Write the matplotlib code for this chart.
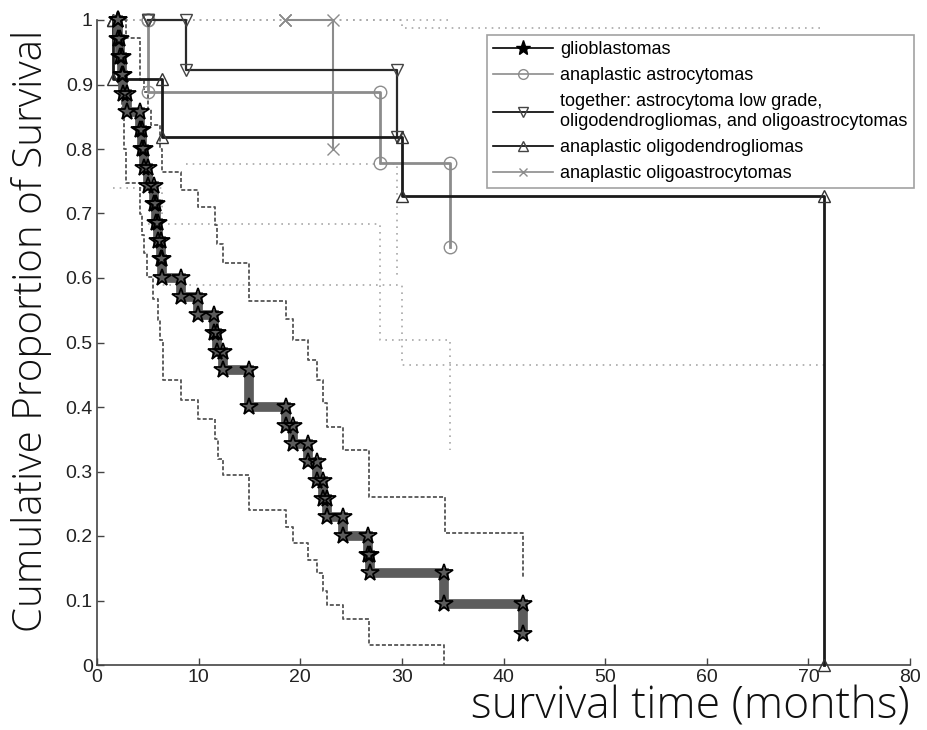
import numpy as np
import matplotlib.pyplot as plt
from matplotlib.lines import Line2D

# ---------------- data ----------------
# glioblastomas: event times (months) and survival after each drop
gbm_t = [2.1, 2.25, 2.45, 2.6, 3.0, 4.2, 4.4, 4.6, 5.0, 5.6, 5.85, 6.05, 6.3, 6.4,
         8.3, 9.9, 11.5, 11.8, 12.4, 15.0, 18.6, 19.3, 20.8, 21.6, 22.2, 22.6,
         24.2, 26.7, 26.9, 34.1, 41.9]
gbm_s = [0.971, 0.943, 0.914, 0.886, 0.857, 0.829, 0.800, 0.771, 0.743, 0.714,
         0.686, 0.657, 0.629, 0.600, 0.571, 0.543, 0.514, 0.486, 0.457, 0.400,
         0.371, 0.343, 0.314, 0.286, 0.257, 0.229, 0.200, 0.171, 0.143, 0.095,
         0.048]
gbm_up_t = [2.85, 4.2, 4.6, 5.0, 5.3, 6.2, 6.35, 8.3, 9.95, 11.6, 11.8, 12.4,
            15.0, 18.6, 19.3, 20.8, 21.6, 22.2, 22.6, 24.2, 26.8, 34.2, 41.9]
gbm_up_s = [0.972, 0.907, 0.888, 0.862, 0.837, 0.800, 0.765, 0.736, 0.710, 0.682,
            0.652, 0.624, 0.565, 0.537, 0.504, 0.473, 0.442, 0.406, 0.369, 0.333,
            0.261, 0.205, 0.137]
gbm_lo_t = [2.3, 2.5, 2.7, 2.9, 4.2, 4.4, 4.6, 4.9, 5.5, 6.0, 6.2, 6.5,
            8.3, 9.95, 11.6, 11.9, 12.4, 15.0, 18.6, 19.3, 20.8, 21.6, 22.2, 22.6,
            24.2, 26.8, 34.1]
gbm_lo_s = [0.89, 0.86, 0.80, 0.747, 0.70, 0.667, 0.638, 0.602, 0.568,
            0.535, 0.504, 0.442, 0.411, 0.382, 0.351, 0.320, 0.295, 0.241, 0.214,
            0.189, 0.163, 0.142, 0.114, 0.093, 0.071, 0.031, 0.0]

# anaplastic astrocytomas
ast_t = [5.05, 27.8, 34.7]
ast_s = [0.889, 0.778, 0.648]
ast_lo_t = [5.05, 27.8, 34.7]
ast_lo_s = [0.684, 0.504, 0.333]

# together: astrocytoma low grade, oligodendrogliomas, oligoastrocytomas
tog_t = [5.05, 8.8, 29.5]
tog_s = [1.0, 0.923, 0.819]
tog_lo_t = [8.8, 29.5]
tog_lo_s = [0.777, 0.60]

# anaplastic oligodendrogliomas
odg_t = [1.6, 6.35, 30.0, 71.5]
odg_s = [0.909, 0.818, 0.727, 0.0]
odg_lo_t = [1.6, 6.35, 30.0]
odg_lo_s = [0.739, 0.589, 0.465]
odg_up_t = [1.6, 30.0]
odg_up_s = [1.0, 0.988]

# anaplastic oligoastrocytomas
oac_t = [18.5, 23.2]
oac_s = [1.0, 0.8]

upper_one_span = [1.6, 34.7]   # upper limits capped at 1

labels = ["glioblastomas",
          "anaplastic astrocytomas",
          "together: astrocytoma low grade,\noligodendrogliomas, and oligoastrocytomas",
          "anaplastic oligodendrogliomas",
          "anaplastic oligoastrocytomas"]


def steps(times, vals, start=1.0, t_end=None):
    xs = [times[0]]
    ys = [start]
    prev = start
    for t, v in zip(times, vals):
        xs += [t, t]
        ys += [prev, v]
        prev = v
    if t_end is not None:
        xs.append(t_end)
        ys.append(prev)
    return xs, ys


fig = plt.figure(figsize=(9.27, 7.30), dpi=100)
ax = fig.add_axes([97 / 927, 1 - 665 / 730, 813 / 927, 645 / 730])

light = "#a8a8a8"
dot = (0, (1, 3))
dash = (0, (2.2, 1.2))

# confidence limits (other groups)
ax.plot(upper_one_span, [1.0, 1.0], color=light, lw=1.2, ls=dot, clip_on=False)
x, y = steps(ast_lo_t, ast_lo_s, start=ast_lo_s[0])
ax.plot(x, y, color=light, lw=1.2, ls=dot)
x, y = steps(tog_lo_t, tog_lo_s, start=tog_lo_s[0])
ax.plot(x, y, color=light, lw=1.2, ls=dot)
x, y = steps(odg_lo_t, odg_lo_s, start=odg_lo_s[0], t_end=odg_t[-1])
ax.plot(x, y, color=light, lw=1.2, ls=dot)
x, y = steps(odg_up_t, odg_up_s, start=odg_up_s[0], t_end=odg_t[-1])
ax.plot(x, y, color=light, lw=1.2, ls=dot, clip_on=False)

# confidence limits (glioblastomas)
x, y = steps(gbm_up_t, gbm_up_s, start=1.0)
x = [gbm_t[0]] + x
y = [1.0] + y
ax.plot(x, y, color="#555555", lw=1.3, ls=dash, clip_on=False)
x, y = steps(gbm_lo_t, gbm_lo_s, start=0.92)
ax.plot(x, y, color="#555555", lw=1.3, ls=dash)

# survival curves
x, y = steps(ast_t, ast_s)
ax.plot(x, y, color="#8c8c8c", lw=2, marker="o", ms=9, mfc="none",
        mec="#8c8c8c", clip_on=False)
x, y = steps(oac_t, oac_s)
ax.plot(x, y, color="#8c8c8c", lw=1.5, marker="x", ms=8, mec="#8c8c8c",
        clip_on=False)
x, y = steps(tog_t, tog_s)
ax.plot(x, y, color="#2a2a2a", lw=1.6, marker="v", ms=9, mfc="none",
        mec="#444444", clip_on=False)
x, y = steps(odg_t, odg_s)
ax.plot(x, y, color="#1a1a1a", lw=2, marker="^", ms=9, mfc="none",
        mec="#333333", clip_on=False, zorder=3)
x, y = steps(gbm_t, gbm_s, start=1.0)
ax.plot(x, y, color="#5c5c5c", lw=7, solid_joinstyle="miter", marker="*",
        ms=13, mfc="none", mec="black", mew=1.3, clip_on=False, zorder=4)

ax.set_xlim(0, 80)
ax.set_ylim(0, 1)
ax.set_xticks(np.arange(0, 81, 10))
ax.set_yticks(np.arange(0, 1.01, 0.1))
ax.set_yticklabels(["0", "0.1", "0.2", "0.3", "0.4", "0.5", "0.6", "0.7",
                    "0.8", "0.9", "1"])
tick_font = ["Liberation Sans Narrow", "Liberation Sans", "DejaVu Sans"]
for lab in ax.get_xticklabels() + ax.get_yticklabels():
    lab.set_family(tick_font)
    lab.set_fontsize(14)
ax.tick_params(direction="in", length=5, width=1, color="#444444",
               labelcolor="#222222", pad=3)
ax.spines["top"].set_visible(False)
ax.spines["right"].set_visible(False)
for s in ("left", "bottom"):
    ax.spines[s].set_color("#444444")
    ax.spines[s].set_linewidth(1.2)

label_font = ["Open Sans", "DejaVu Sans"]
fig.text(910 / 927, 1 - 707 / 730, "survival time (months)", ha="right",
         va="center", fontsize=32, family=label_font, fontweight="light",
         color="#111111")
fig.text(32 / 927, 1 - 331 / 730, "Cumulative Proportion of Survival",
         rotation=90, ha="center", va="center", fontsize=29, family=label_font,
         fontweight="light", color="#111111")

handles = [
    Line2D([], [], color="black", lw=1.2, marker="*", ms=11, mfc="black", mec="black"),
    Line2D([], [], color="#8c8c8c", lw=1.2, marker="o", ms=7, mfc="none", mec="#8c8c8c"),
    Line2D([], [], color="black", lw=1.2, marker="v", ms=7, mfc="none", mec="#444444"),
    Line2D([], [], color="black", lw=1.2, marker="^", ms=7, mfc="none", mec="#444444"),
    Line2D([], [], color="#8c8c8c", lw=1.2, marker="x", ms=6, mec="#8c8c8c"),
]
leg = ax.legend(handles, labels, loc="upper left", bbox_to_anchor=(0.4796, 0.977),
                prop={"family": ["Liberation Sans", "DejaVu Sans"], "size": 13},
                handlelength=3.3, handletextpad=0.4, labelspacing=0.5,
                borderpad=0.35, fancybox=False, frameon=True, borderaxespad=0)
leg.get_frame().set_edgecolor("#8a8a8a")
leg.get_frame().set_linewidth(1.2)

fig.savefig("out.png", dpi=100)
